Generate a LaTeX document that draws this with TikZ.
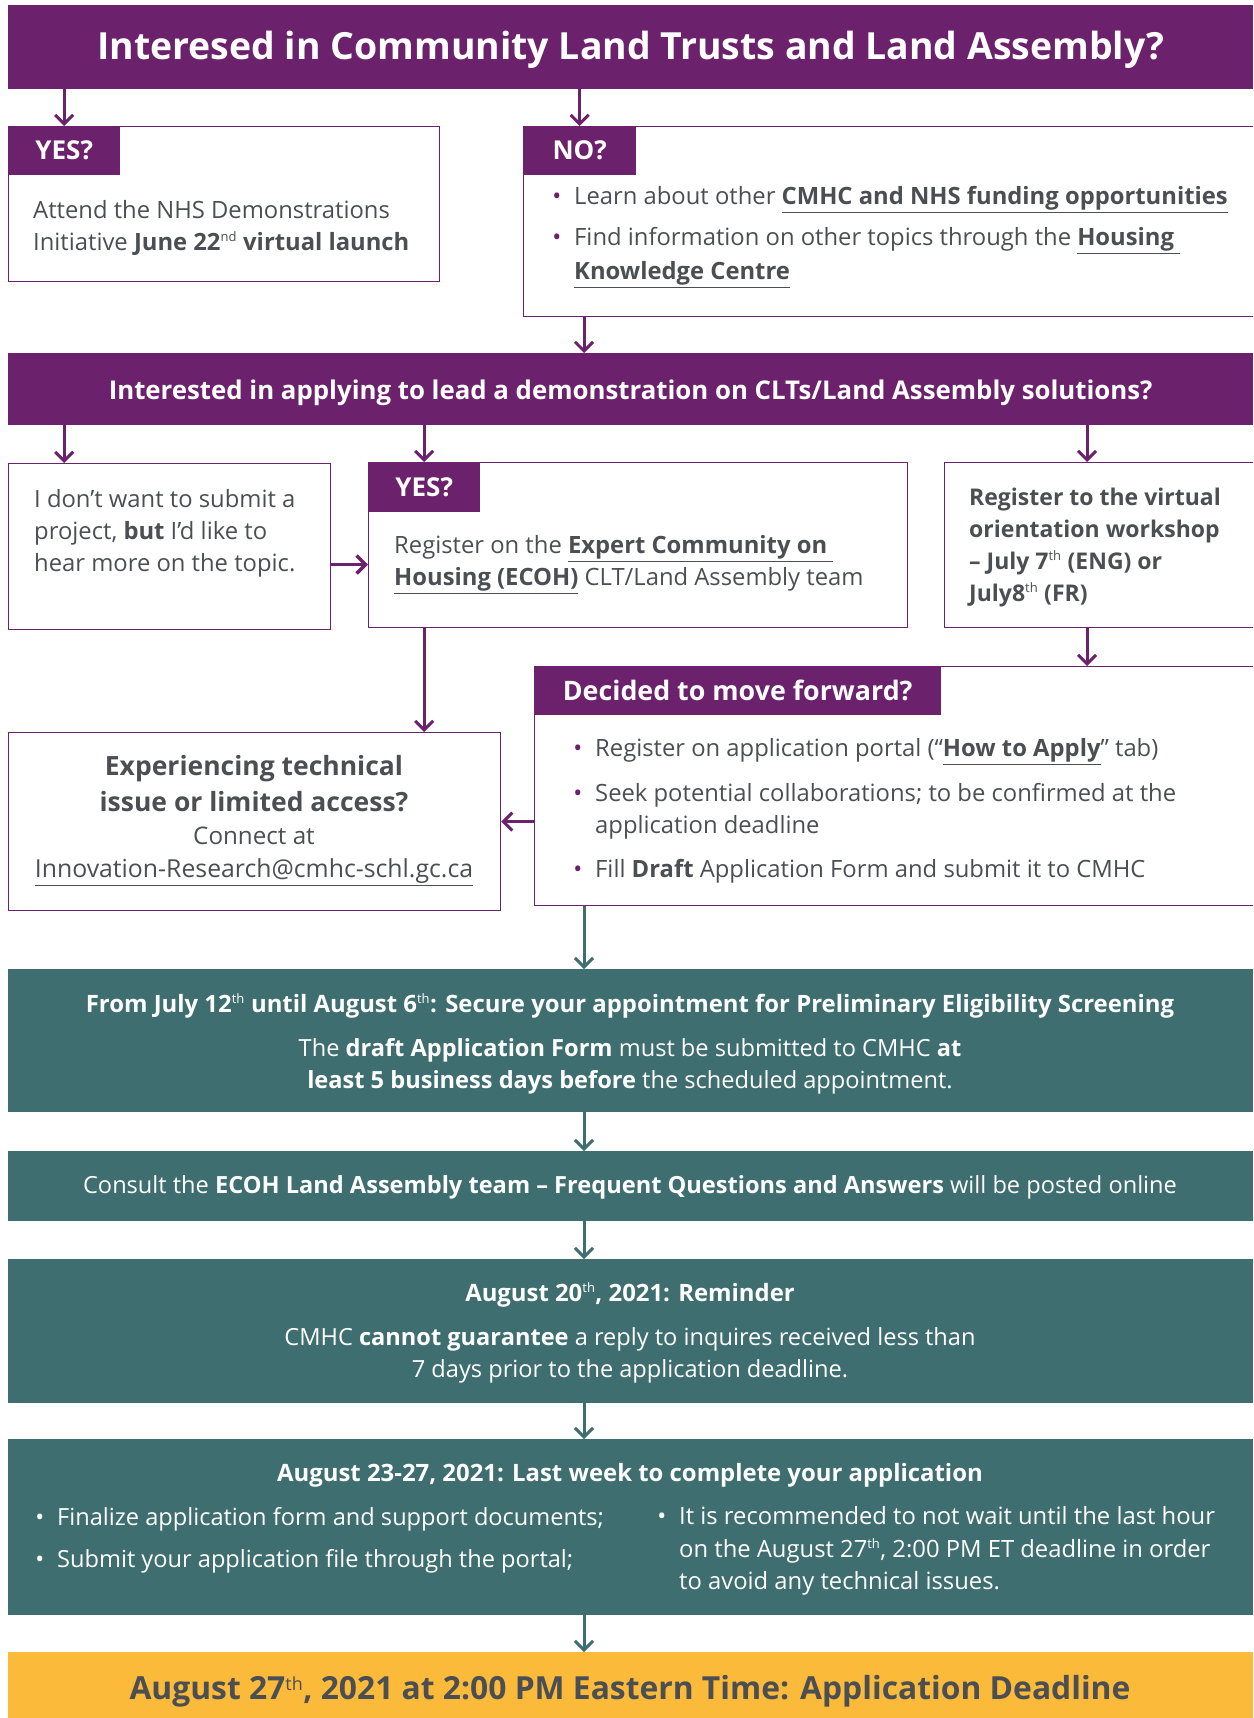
\documentclass[tikz,border=0pt]{standalone}
\usepackage{fontspec}
\setmainfont{Open Sans}
\usetikzlibrary{arrows.meta,calc}
\definecolor{purp}{HTML}{6B216B}
\definecolor{tealbox}{HTML}{3F6E70}
\definecolor{gold}{HTML}{FBBA39}
\definecolor{txtgray}{HTML}{4B4F54}
\newcommand\fs[2]{\fontsize{#1}{#2}\selectfont}
\newcommand\lnk[1]{\underline{\textbf{#1}}}
\newcommand\pbul{\llap{\textcolor{purp}{•}\hspace{13pt}}}
\newcommand\wbul{\llap{•\hspace{13pt}}}
\newcommand\tsup[2][13]{\textsuperscript{\mdseries\fs{#1}{#1}#2}}
\begin{document}
\begin{tikzpicture}[x=1pt,y=-1pt,
  wbox/.style={draw=purp, line width=1.2pt, fill=white, anchor=north west, inner sep=0pt},
  tabbox/.style={fill=purp, text=white, anchor=north west, inner sep=0pt, font=\bfseries\fs{26}{30}},
  bar/.style={fill=purp, text=white, anchor=north west, inner sep=0pt},
  tbox/.style={fill=tealbox, anchor=north west, inner sep=0pt, minimum width=1245pt},
  txt/.style={text=txtgray, anchor=west, align=left, inner sep=0pt, font=\fs{23.8}{32}, yshift=-2.5pt},
  wtxt/.style={text=white, anchor=center, align=center, inner sep=0pt, font=\fs{23.6}{32}, yshift=-2pt},
  parr/.style={draw=purp, line width=3pt, -{Straight Barb[length=9pt,width=18pt]}},
  tarr/.style={draw=tealbox, line width=3pt, -{Straight Barb[length=9pt,width=18pt]}}
]
\clip (0,0) rectangle (1253,1718);
\fill[white] (0,0) rectangle (1253,1718);

% ---- title
\node[bar, minimum width=1245pt, minimum height=84pt, font=\bfseries\fs{37.4}{44}] (title) at (8,5) {\raisebox{-3pt}[\height][\depth]{Interesed in Community Land Trusts and Land Assembly?}};

% ---- YES / NO
\node[wbox, minimum width=431pt, minimum height=155pt] (yesbox) at (8,126) {};
\node[tabbox, minimum width=112pt, minimum height=49pt] (yestab) at (8,126) {YES?};
\node[txt] (yestxt) at (33,225) {Attend the NHS Demonstrations\\Initiative \textbf{June 22\tsup{nd} virtual launch}};

\node[wbox, minimum width=745pt, minimum height=190pt] (nobox) at (523,126) {};
\node[tabbox, minimum width=113pt, minimum height=49pt] (notab) at (523,126) {NO?};
\node[txt] (no1) at (574,197) {\pbul Learn about other \lnk{CMHC and NHS funding opportunities}};
\node[txt, font=\fs{23.8}{34}] (no2) at (574,255) {\pbul Find information on other topics through the \lnk{Housing }\\\lnk{Knowledge Centre}};

\coordinate (spine) at (584,0);

% ---- second bar
\node[bar, minimum width=1245pt, minimum height=72pt, font=\bfseries\fs{25.8}{30}] (bar2) at (8,353) {\raisebox{-3.5pt}[\height][\depth]{Interested in applying to lead a demonstration on CLTs/Land Assembly solutions?}};

\node[wbox, minimum width=322pt, minimum height=166pt] (dont) at (8,463) {};
\node[txt] (donttxt) at (34,531) {I don’t want to submit a\\project, \textbf{but} I’d like to\\hear more on the topic.};

\node[wbox, minimum width=539pt, minimum height=165pt] (midbox) at (368,462) {};
\node[tabbox, minimum width=112pt, minimum height=50pt] (midtab) at (368,462) {YES?};
\node[txt] (midtxt) at (394,562) {Register on the \lnk{Expert Community on }\\\lnk{Housing (ECOH)} CLT/Land Assembly team};

\node[wbox, minimum width=320pt, minimum height=165pt] (regbox) at (944,462) {};
\node[txt, font=\bfseries\fs{23}{32}] (regtxt) at (969,545) {Register to the virtual\\orientation workshop\\– July 7\tsup{th} (ENG) or\\July8\tsup{th} (FR)};
\coordinate (rtop) at ($(regbox.north west)+(143,0)$);
\coordinate (rbot) at ($(regbox.south west)+(143,0)$);

% ---- experiencing / decided
\node[wbox, minimum width=492pt, minimum height=178pt] (expbox) at (8,732) {};
\node[txt, anchor=center, align=center, font=\fs{24.2}{33}] (exptxt) at (254,818) {\textbf{\fs{26.5}{35}Experiencing technical}\\[3pt]\textbf{\fs{26.5}{35}issue or limited access?}\\Connect at\\\underline{\fs{24.8}{33}Innovation-Research@cmhc-schl.gc.ca}};

\node[wbox, minimum width=730pt, minimum height=239pt] (decbox) at (534,666) {};
\node[tabbox, minimum width=407pt, minimum height=49pt, font=\bfseries\fs{26.8}{30}] (dectab) at (534,666) {Decided to move forward?};
\node[txt] (dec1) at (595,749) {\pbul Register on application portal (“\lnk{How to Apply}” tab)};
\node[txt] (dec2) at (595,809) {\pbul Seek potential collaborations; to be confirmed at the\\application deadline};
\node[txt] (dec3) at (595,869) {\pbul Fill \textbf{Draft} Application Form and submit it to CMHC};

% ---- teal boxes
\node[tbox, minimum height=143pt] (t1) at (8,969) {};
\node[wtxt, font=\bfseries\fs{23.9}{32}, yshift=0pt] (t1a) at (630,1004) {From July 12\tsup{th} until August 6\tsup{th}: Secure your appointment for Preliminary Eligibility Screening};
\node[wtxt] (t1b) at (630,1064) {The \textbf{draft Application Form} must be submitted to CMHC \textbf{at}\\\textbf{least 5 business days before} the scheduled appointment.};

\node[tbox, minimum height=70pt] (t2) at (8,1151) {};
\node[wtxt] (t2a) at (630,1185) {Consult the \textbf{ECOH Land Assembly team – Frequent Questions and Answers} will be posted online};

\node[tbox, minimum height=144pt] (t3) at (8,1259) {};
\node[wtxt, font=\bfseries\fs{23.9}{32}, yshift=0pt] (t3a) at (630,1293) {August 20\tsup{th}, 2021: Reminder};
\node[wtxt] (t3b) at (630,1353) {CMHC \textbf{cannot guarantee} a reply to inquires received less than\\7 days prior to the application deadline.};

\node[tbox, minimum height=176pt] (t4) at (8,1439) {};
\node[wtxt, font=\bfseries\fs{23.9}{32}, yshift=0pt] (t4a) at (630,1473) {August 23-27, 2021: Last week to complete your application};
\node[wtxt, anchor=west, align=left, font=\fs{23.6}{32.5}] (t4l1) at (57,1517) {\wbul Finalize application form and support documents;};
\node[wtxt, anchor=west, align=left, font=\fs{23.6}{32.5}] (t4l2) at (57,1559) {\wbul Submit your application file through the portal;};
\node[wtxt, anchor=west, align=left, font=\fs{23.8}{32.5}] (t4r) at (679,1549) {\wbul It is recommended to not wait until the last hour\\on the August 27\tsup{th}, 2:00 PM ET deadline in order\\to avoid any technical issues.};

\node[fill=gold, anchor=north west, inner sep=0pt, minimum width=1245pt, minimum height=70pt] (gbox) at (8,1652) {};
\node[text=txtgray, inner sep=0pt, font=\bfseries\fs{31.8}{38}] (gtxt) at (630,1691) {August 27\tsup[18]{th}, 2021 at 2:00 PM Eastern Time: Application Deadline};

% ---- connectors
\draw[parr] (yestab.north |- title.south) -- (yestab.north);
\draw[parr] (notab.north |- title.south) -- (notab.north);
\draw[parr] (spine |- nobox.south) -- (spine |- bar2.north);
\draw[parr] (yestab.north |- bar2.south) -- (yestab.north |- dont.north);
\draw[parr] (midtab.north |- bar2.south) -- (midtab.north);
\draw[parr] (rtop |- bar2.south) -- (rtop);
\draw[parr, line width=3.5pt] (dont.east |- midtxt.west) -- (midbox.west |- midtxt.west);
\draw[parr] (midtab.south |- midbox.south) -- (midtab.south |- expbox.north);
\draw[parr] (rbot) -- (rbot |- decbox.north);
\draw[parr] (decbox.west |- expbox.east) -- (expbox.east);
\draw[tarr] (spine |- decbox.south) -- (spine |- t1.north);
\draw[tarr] (spine |- t1.south) -- (spine |- t2.north);
\draw[tarr] (spine |- t2.south) -- (spine |- t3.north);
\draw[tarr] (spine |- t3.south) -- (spine |- t4.north);
\draw[tarr] (spine |- t4.south) -- (spine |- gbox.north);
\end{tikzpicture}
\end{document}
